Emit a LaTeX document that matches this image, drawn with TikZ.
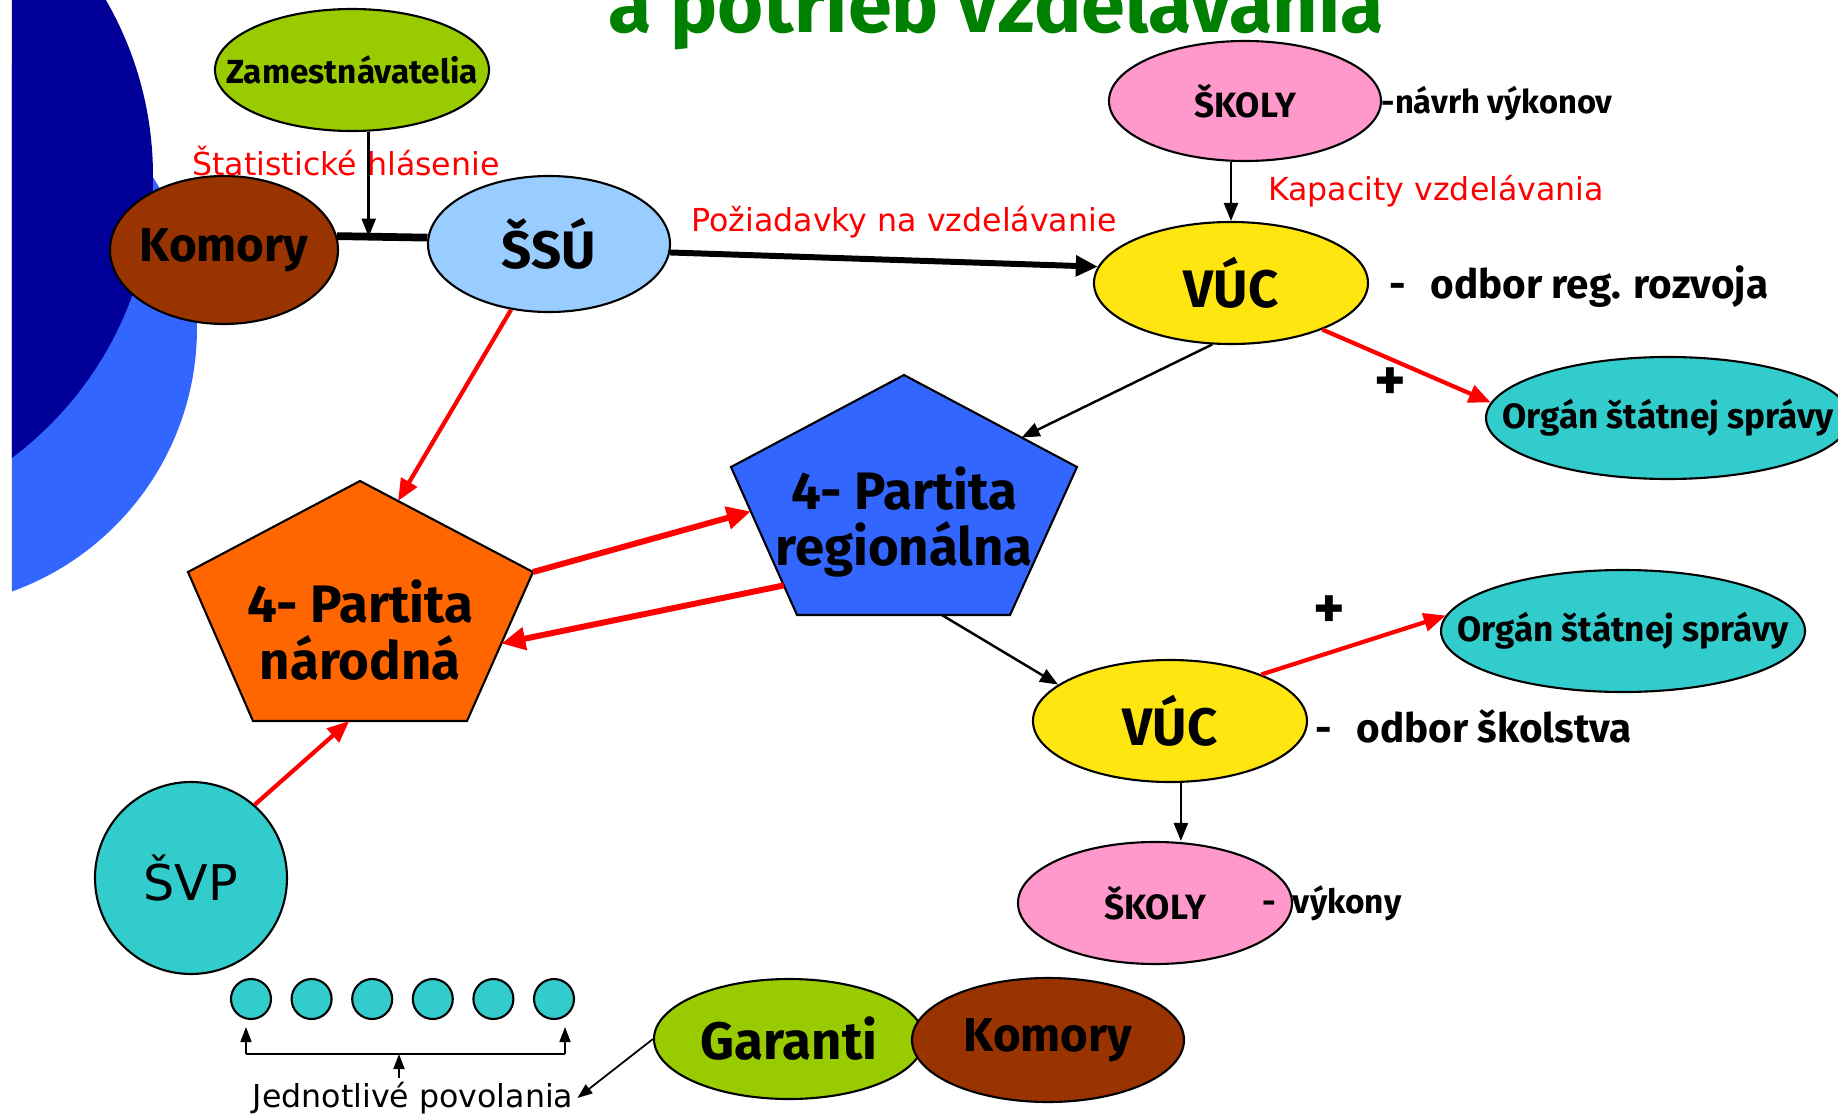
\documentclass[tikz,border=0pt]{standalone}
\usepackage{fontspec}
\setmainfont{DejaVu Sans}
\newfontfamily\comic{Fira Sans}
\usetikzlibrary{arrows.meta,calc,shapes.geometric}

\definecolor{darkbg}{RGB}{0,0,153}
\definecolor{lightbg}{RGB}{51,102,255}
\definecolor{titlegreen}{RGB}{0,128,0}
\definecolor{limegreen}{RGB}{153,204,0}
\definecolor{brickbrown}{RGB}{153,51,0}
\definecolor{skyblue}{RGB}{153,204,255}
\definecolor{rosepink}{RGB}{255,153,204}
\definecolor{vucyellow}{RGB}{255,230,16}
\definecolor{tealfill}{RGB}{51,204,204}
\definecolor{partorange}{RGB}{255,102,0}
\definecolor{partblue}{RGB}{51,102,255}

\newcommand{\titletxt}{\comic\bfseries\fontsize{22.5}{26}\selectfont}
\newcommand{\bigtxt}{\comic\bfseries\fontsize{15}{16}\selectfont}
\newcommand{\komtxt}{\comic\bfseries\fontsize{13.5}{16}\selectfont}
\newcommand{\midtxt}{\comic\bfseries\fontsize{11.5}{14}\selectfont}
\newcommand{\smalltxt}{\comic\bfseries\fontsize{10}{12}\selectfont}
\newcommand{\redtxt}{\fontsize{9}{11}\selectfont}
\newcommand{\fixw}[1]{\makebox[0pt]{#1}}

\tikzset{
  bubble/.style={ellipse, draw=black, line width=0.6pt, inner sep=0pt},
  dot/.style={circle, draw=black, line width=0.6pt, fill=tealfill, minimum size=0.40cm, inner sep=0pt},
  pentagon/.style={draw=black, line width=0.6pt},
  arrow/.style={-{Triangle[length=1.8mm,width=1.4mm]}, line width=0.7pt},
  smallarrow/.style={-{Triangle[length=1.5mm,width=1.1mm]}, line width=0.5pt},
  redarrow/.style={-{Triangle[length=2.2mm,width=1.8mm]}, line width=1.2pt, red},
  thickred/.style={-{Triangle[length=2.4mm,width=2.2mm]}, line width=1.7pt, red},
  thickarrow/.style={-{Triangle[length=2.2mm,width=2mm]}, line width=1.7pt},
  redlabel/.style={text=red, font=\redtxt, inner sep=1pt}
}

\begin{document}
\begin{tikzpicture}
  \useasboundingbox (0,0) rectangle (18.38,-11.17);

  \begin{scope}
    \clip (0.12,0) rectangle (18.38,-11.17);
    \fill[lightbg] (-0.83,-3.28) circle (2.80);
    \fill[darkbg] (-1.99,-1.76) circle (3.52);
  \end{scope}

  \node[anchor=base, text=titlegreen, font=\titletxt] (title) at (9.96,-0.32) {a potrieb vzdelávania};

  % upper part
  \node[bubble, fill=limegreen, minimum width=2.74cm, minimum height=1.22cm, font=\comic\bfseries\fontsize{9.5}{11}\selectfont] (zam) at (3.52,-0.70) {\fixw{Zamestnávatelia}};
  \node[bubble, fill=brickbrown, minimum width=2.28cm, minimum height=1.48cm, font=\komtxt] (komA) at (2.24,-2.50) {\fixw{Komory}};
  \node[bubble, fill=skyblue, minimum width=2.42cm, minimum height=1.36cm, font=\bigtxt] (ssu) at (5.49,-2.44) {\fixw{ŠSÚ}};
  \node[bubble, fill=rosepink, minimum width=2.72cm, minimum height=1.20cm, font=\smalltxt] (skolyA) at (12.45,-1.01) {\fixw{ŠKOLY}};
  \node[bubble, fill=vucyellow, minimum width=2.74cm, minimum height=1.22cm, font=\bigtxt] (vucA) at (12.31,-2.83) {\fixw{VÚC}};
  \node[bubble, fill=tealfill, minimum width=3.64cm, minimum height=1.22cm, font=\smalltxt] (organA) at (16.68,-4.18) {\fixw{Orgán štátnej správy}};

  \node[anchor=west, font=\comic\bfseries\fontsize{9.3}{11}\selectfont, inner sep=0pt] (navrh) at (13.81,-1.03) {-návrh výkonov};
  \node[anchor=west, font=\midtxt, inner sep=0pt] (odborA) at (13.89,-2.87) {-\hspace{0.6em}odbor reg. rozvoja};
  \node[font=\comic\bfseries\fontsize{17}{17}\selectfont] (plusA) at (13.90,-3.84) {+};

  \node[redlabel] (statlbl) at (3.46,-1.61) {Štatistické hlásenie};
  \node[redlabel] (pozlbl) at (9.04,-2.22) {Požiadavky na vzdelávanie};
  \node[redlabel, anchor=west] (kaplbl) at (12.64,-1.91) {Kapacity vzdelávania};

  % pentagons
  \coordinate (regT) at (9.04,-3.75);
  \coordinate (regUR) at (10.77,-4.67);
  \coordinate (regLR) at (10.10,-6.15);
  \coordinate (regLL) at (7.97,-6.15);
  \coordinate (regUL) at (7.31,-4.67);
  \filldraw[pentagon, fill=partblue] (regT) -- (regUR) -- (regLR) -- (regLL) -- (regUL) -- cycle;
  \node[font=\bigtxt, align=center] (reg) at (9.04,-5.22) {4- Partita\\regionálna};

  \coordinate (natT) at (3.60,-4.81);
  \coordinate (natUR) at (5.33,-5.72);
  \coordinate (natLR) at (4.67,-7.21);
  \coordinate (natLL) at (2.53,-7.21);
  \coordinate (natUL) at (1.88,-5.72);
  \filldraw[pentagon, fill=partorange] (natT) -- (natUR) -- (natLR) -- (natLL) -- (natUL) -- cycle;
  \node[font=\bigtxt, align=center] (nat) at (3.60,-6.30) {4- Partita\\národná};

  % lower part
  \node[bubble, fill=vucyellow, minimum width=2.74cm, minimum height=1.22cm, font=\bigtxt] (vucB) at (11.70,-7.21) {\fixw{VÚC}};
  \node[bubble, fill=tealfill, minimum width=3.64cm, minimum height=1.22cm, font=\smalltxt] (organB) at (16.23,-6.31) {\fixw{Orgán štátnej správy}};
  \node[bubble, fill=rosepink, minimum width=2.74cm, minimum height=1.22cm, font=\smalltxt] (skolyB) at (11.55,-9.03) {\fixw{ŠKOLY}};
  \node[anchor=west, font=\midtxt, inner sep=0pt] (odborB) at (13.15,-7.26) {-\hspace{0.6em}odbor školstva};
  \node[anchor=west, font=\comic\bfseries\fontsize{9.5}{12}\selectfont, inner sep=0pt] (vykony) at (12.62,-9.03) {-\hspace{0.5em}výkony};
  \node[font=\comic\bfseries\fontsize{17}{17}\selectfont] (plusB) at (13.29,-6.12) {+};

  \node[circle, draw=black, line width=0.6pt, fill=tealfill, minimum size=1.92cm, inner sep=0pt, font=\fontsize{14}{16}\selectfont] (svp) at (1.91,-8.78) {ŠVP};
  \foreach \i in {1,...,6}
    \node[dot] (c\i) at ({2.51+0.606*(\i-1)},-9.99) {};

  \node[bubble, fill=limegreen, minimum width=2.70cm, minimum height=1.20cm, font=\bigtxt] (garanti) at (7.89,-10.39) {\fixw{Garanti}};
  \node[bubble, fill=brickbrown, minimum width=2.72cm, minimum height=1.24cm, font=\komtxt] (komB) at (10.48,-10.40) {\fixw{Komory}};
  \node[font=\redtxt, inner sep=1pt] (jedn) at (4.13,-10.98) {Jednotlivé povolania};

  % connectors
  \coordinate (barjoin) at ($(komA.7)!0.35!(ssu.177)$);
  \draw[line width=2.2pt] (komA.7) -- (ssu.177);
  \draw[arrow] (zam.south -| barjoin) -- (barjoin);
  \draw[thickarrow] (ssu.-4) -- (vucA.173);
  \draw[arrow] (skolyA.south -| vucA.north) -- (vucA.north);
  \draw[arrow] (vucA.-107) -- ($(regT)!0.68!(regUR)$);
  \draw[redarrow] (vucA.-27) -- (organA.175);
  \draw[redarrow] (ssu.-120) -- ($(natT)!0.22!(natUR)$);
  \draw[thickred] (natUR) -- ($(regUL)!0.30!(regLL)$);
  \draw[thickred] ($(regUL)!0.80!(regLL)$) -- ($(natUR)!0.48!(natLR)$);
  \draw[arrow] ($(regLL)!0.68!(regLR)$) -- (vucB.162);
  \draw[redarrow] (vucB.27) -- (organB.175);
  \draw[arrow] (vucB.-80) -- (vucB.-80 |- skolyB.north);
  \draw[redarrow] (svp.49) -- ($(natLL)!0.45!(natLR)$);

  \coordinate (brL) at (2.46,-10.54);
  \coordinate (brR) at (5.65,-10.54);
  \coordinate (brM) at (3.99,-10.54);
  \draw[line width=0.5pt] (brL) -- (brR);
  \draw[smallarrow, shorten >=0.7mm] (brL) -- (brL |- c1.south);
  \draw[smallarrow, shorten >=0.7mm] (brR) -- (brR |- c6.south);
  \draw[smallarrow] (jedn.north -| brM) -- (brM);
  \draw[smallarrow] (garanti.west) -- (jedn.east);
\end{tikzpicture}
\end{document}
